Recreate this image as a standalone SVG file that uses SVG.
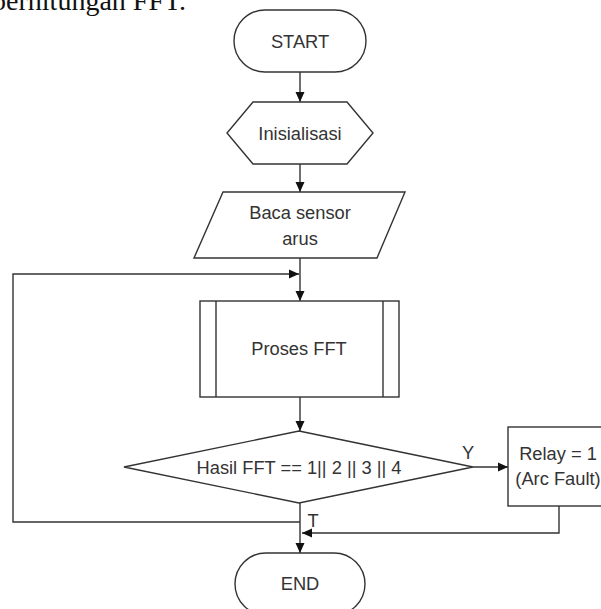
<svg xmlns="http://www.w3.org/2000/svg" width="601" height="609" viewBox="0 0 601 609">
<style>
.s{fill:#fff;stroke:#333;stroke-width:1.4}
.t{font-family:"Liberation Sans",Arial,sans-serif;font-size:18.3px;fill:#333;text-anchor:middle;dominant-baseline:central}
.c{fill:none;stroke:#333;stroke-width:1.4}
</style>
<defs>
<marker id="a" markerUnits="userSpaceOnUse" markerWidth="11" markerHeight="10" refX="10" refY="5" orient="auto" viewBox="0 0 11 10">
<path d="M0,0.5 L10,5 L0,9.5 z" fill="#111"/>
</marker>
</defs>
<rect width="601" height="609" fill="#fff"/>
<text x="186" y="10" font-family="Liberation Serif,Times New Roman,serif" font-size="28" text-anchor="end" fill="#111">perhitungan FFT.</text>
<g id="connectors">
<line class="c" x1="300" y1="72" x2="300" y2="102" marker-end="url(#a)"/>
<line class="c" x1="300" y1="164" x2="300" y2="192" marker-end="url(#a)"/>
<line class="c" x1="300" y1="258" x2="300" y2="301" marker-end="url(#a)"/>
<line class="c" x1="300" y1="397" x2="300" y2="431" marker-end="url(#a)"/>
<line class="c" x1="300" y1="503" x2="300" y2="553" marker-end="url(#a)"/>
<line class="c" x1="473" y1="467" x2="508" y2="467" marker-end="url(#a)"/>
<polyline class="c" points="559,506 559,533 302,533" marker-end="url(#a)"/>
<polyline class="c" points="300,522 13,522 13,274 299,274" marker-end="url(#a)"/>
<text class="t" x="468" y="452" font-size="17">Y</text>
<text class="t" x="313" y="520" font-size="17">T</text>
</g>
<g id="start">
<rect class="s" x="234" y="10" width="132" height="62" rx="31"/>
<text class="t" x="300" y="41">START</text>
</g>
<g id="init">
<polygon class="s" points="253,102 347,102 373,133 347,164 253,164 227,133"/>
<text class="t" x="300" y="133">Inisialisasi</text>
</g>
<g id="baca">
<polygon class="s" points="223,192 405,192 377,258 194,258"/>
<text class="t" x="300" y="212">Baca sensor</text>
<text class="t" x="300" y="238">arus</text>
</g>
<g id="proses">
<rect class="s" x="200" y="301" width="199" height="96"/>
<line class="c" x1="216" y1="301" x2="216" y2="397"/>
<line class="c" x1="383" y1="301" x2="383" y2="397"/>
<text class="t" x="299" y="348">Proses FFT</text>
</g>
<g id="decision">
<polygon class="s" points="299,431 473,467 299,503 124,467"/>
<text class="t" x="299" y="467">Hasil FFT == 1|| 2 || 3 || 4</text>
</g>
<g id="relay">
<rect class="s" x="508" y="427" width="102" height="79"/>
<text class="t" x="558" y="453">Relay = 1</text>
<text class="t" x="558" y="478">(Arc Fault)</text>
</g>
<g id="end">
<rect class="s" x="235" y="553" width="130" height="62" rx="31"/>
<text class="t" x="300" y="583">END</text>
</g>
</svg>
